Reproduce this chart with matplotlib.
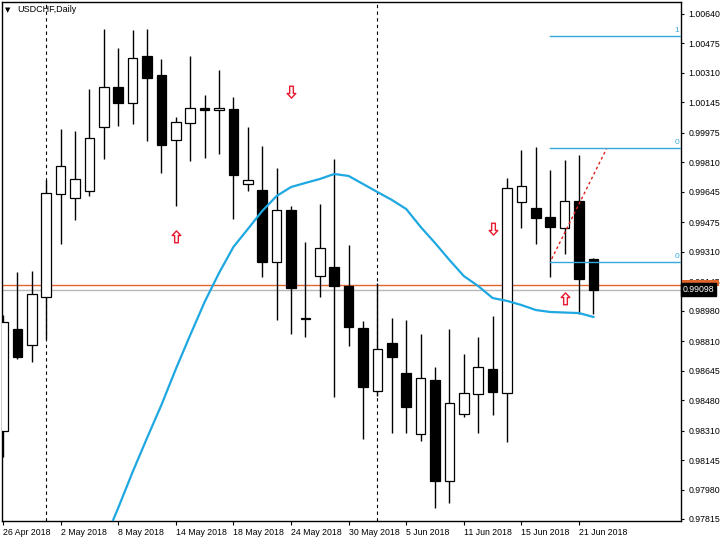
import matplotlib
matplotlib.use("Agg")
import matplotlib.pyplot as plt
import matplotlib.transforms as mtransforms
from matplotlib.path import Path
from matplotlib.patches import Rectangle

# ---------------- data ----------------
dates = ["26 Apr", "27 Apr", "30 Apr", "1 May", "2 May", "3 May", "4 May", "7 May",
         "8 May", "9 May", "10 May", "11 May", "14 May", "15 May", "16 May", "17 May",
         "18 May", "21 May", "22 May", "23 May", "24 May", "25 May", "28 May", "29 May",
         "30 May", "31 May", "1 Jun", "4 Jun", "5 Jun", "6 Jun", "7 Jun", "8 Jun",
         "11 Jun", "12 Jun", "13 Jun", "14 Jun", "15 Jun", "18 Jun", "19 Jun", "20 Jun",
         "21 Jun", "22 Jun"]
opens = [0.98307, 0.98878, 0.98788, 0.99057, 0.99633, 0.99611, 0.99650, 1.00008,
         1.00232, 1.00142, 1.00405, 1.00299, 0.99935, 1.00030, 1.00114, 1.00103,
         1.00109, 0.99689, 0.99655, 0.99253, 0.99544, 0.98934, 0.99174, 0.99225,
         0.99118, 0.98884, 0.98531, 0.98800, 0.98632, 0.98291, 0.98593, 0.98028,
         0.98402, 0.98514, 0.98654, 0.98520, 0.99588, 0.99555, 0.99504, 0.99443,
         0.99594, 0.99270]
highs = [0.98956, 0.99197, 0.99202, 0.99711, 0.99997, 0.99986, 1.00220, 1.00556,
         1.00450, 1.00551, 1.00556, 1.00388, 1.00064, 1.00405, 1.00187, 1.00327,
         1.00176, 1.00008, 0.99902, 0.99779, 0.99566, 0.99365, 0.99577, 0.99829,
         0.99348, 0.98923, 0.99135, 0.98939, 0.98928, 0.98850, 0.98665, 0.98878,
         0.98738, 0.98833, 0.98951, 0.99723, 0.99879, 0.99896, 0.99767, 0.99823,
         0.99851, 0.99275]
lows = [0.98162, 0.98710, 0.98693, 0.98822, 0.99353, 0.99488, 0.99622, 0.99829,
        1.00014, 1.00025, 0.99930, 0.99751, 0.99566, 0.99818, 0.99834, 0.99857,
        0.99493, 0.99650, 0.99169, 0.98928, 0.98850, 0.98833, 0.99057, 0.98498,
        0.98783, 0.98263, 0.98503, 0.98296, 0.98296, 0.98251, 0.97877, 0.97905,
        0.98386, 0.98296, 0.98397, 0.98246, 0.99443, 0.99353, 0.99169, 0.99297,
        0.98962, 0.98962]
closes = [0.98917, 0.98721, 0.99074, 0.99639, 0.99790, 0.99717, 0.99946, 1.00232,
          1.00142, 1.00394, 1.00282, 0.99907, 1.00036, 1.00114, 1.00103, 1.00114,
          0.99739, 0.99711, 0.99253, 0.99544, 0.99107, 0.98936, 0.99331, 0.99118,
          0.98889, 0.98553, 0.98766, 0.98721, 0.98442, 0.98604, 0.98028, 0.98464,
          0.98520, 0.98665, 0.98526, 0.99667, 0.99678, 0.99499, 0.99449, 0.99594,
          0.99158, 0.99098]

ma_start = 7
ma_values = [0.97686, 0.97877, 0.98078, 0.98268, 0.98453, 0.98654, 0.98844, 0.99029,
             0.99191, 0.99337, 0.99437, 0.99538, 0.99622, 0.99672, 0.99695, 0.99717,
             0.99745, 0.99734, 0.99689, 0.99644, 0.99600, 0.99549, 0.99449, 0.99359,
             0.99264, 0.99174, 0.99118, 0.99051, 0.99035, 0.99012, 0.98984, 0.98973,
             0.98970, 0.98967, 0.98945]

separator_idx = [3, 26]
xtick_idx = [0, 4, 8, 12, 16, 20, 24, 28, 32, 36, 40]
xtick_labels = ["26 Apr 2018", "2 May 2018", "8 May 2018", "14 May 2018", "18 May 2018",
                "24 May 2018", "30 May 2018", "5 Jun 2018", "11 Jun 2018", "15 Jun 2018",
                "21 Jun 2018"]
ytick_vals = [1.00640, 1.00475, 1.00310, 1.00145, 0.99975, 0.99810, 0.99645, 0.99475,
              0.99310, 0.99145, 0.98980, 0.98810, 0.98645, 0.98480, 0.98310, 0.98145,
              0.97980, 0.97815]

fib_start = 38
fib_levels = [1.00517, 0.99890, 0.99253]
fib_labels = ["1", "0", "0"]
trend_x = [38.1, 41.9]
trend_y = [0.99270, 0.99885]

up_arrows_x = [12, 39]
up_arrows_y = [0.99393, 0.99046]
down_arrows_x = [20, 34]
down_arrows_y = [1.00209, 0.99443]

hline_orange = 0.99124
bid_price = 0.99098

# ---------------- figure ----------------
FONT = "Liberation Sans"
fig = plt.figure(figsize=(7.2, 5.4), dpi=100)
ax = fig.add_axes([2 / 720, 1 - 521 / 540, 679 / 720, 519 / 540])
ax.set_facecolor("white")

n = len(opens)
w = 0.66
for i in range(n):
    o, h, l, c = opens[i], highs[i], lows[i], closes[i]
    ax.plot([i, i], [l, h], color="black", lw=1.0, zorder=3, solid_capstyle="butt")
    lo, hi = min(o, c), max(o, c)
    bh = max(hi - lo, 0.00003)
    fc = "white" if c >= o else "black"
    ax.add_patch(Rectangle((i - w / 2, lo), w, bh, facecolor=fc, edgecolor="black",
                           lw=0.9, zorder=4))

for s in separator_idx:
    ax.axvline(s, color="black", lw=0.8, ls=(0, (3, 3)), zorder=2)

ma_x = list(range(ma_start, ma_start + len(ma_values)))
ax.plot(ma_x, ma_values, color="#1ea8e2", lw=1.6, zorder=5)

for lvl, lab in zip(fib_levels, fib_labels):
    ax.plot([fib_start, 48], [lvl, lvl], color="#35a8de", lw=1.0, zorder=5)
    ax.text(46.95, lvl + 0.00010, lab, color="#35a8de", fontsize=6, ha="right",
            va="bottom", family=FONT, zorder=6)
ax.plot(trend_x, trend_y, color="#e02020", lw=1.0, ls=(0, (2, 2)), zorder=6)

ax.axhline(hline_orange, color="#e0652d", lw=1.0, zorder=2)
ax.axhline(bid_price, color="#b8b8b8", lw=1.0, zorder=2)

up_path = Path([(0, 1), (0.65, 0.3), (0.28, 0.3), (0.28, -0.8), (-0.28, -0.8),
                (-0.28, 0.3), (-0.65, 0.3), (0, 1)],
               [Path.MOVETO] + [Path.LINETO] * 6 + [Path.CLOSEPOLY])
down_path = Path([(x, -y) for x, y in up_path.vertices], up_path.codes)
ax.plot(up_arrows_x, up_arrows_y, ls="none", marker=up_path, markersize=9.5,
        markerfacecolor="white", markeredgecolor="#e8182e", markeredgewidth=1.0, zorder=7)
ax.plot(down_arrows_x, down_arrows_y, ls="none", marker=down_path, markersize=9.5,
        markerfacecolor="white", markeredgecolor="#e8182e", markeredgewidth=1.0, zorder=7)

ax.set_xlim(-0.07, 47.08)
ax.set_ylim(0.978038, 1.007071)

for sp in ax.spines.values():
    sp.set_color("black")
    sp.set_linewidth(1.0)

ax.yaxis.tick_right()
ax.set_yticks(ytick_vals)
ax.set_yticklabels([f"{v:.5f}" for v in ytick_vals], fontsize=6.3, family=FONT)
ax.tick_params(axis="y", direction="out", length=2.5, width=0.8, pad=3, colors="black")

ax.set_xticks(xtick_idx)
ax.set_xticklabels(xtick_labels, fontsize=6.3, family=FONT)
for lab in ax.get_xticklabels():
    lab.set_ha("left")
ax.tick_params(axis="x", direction="out", length=3, width=0.8, pad=2, colors="black")

trans = mtransforms.blended_transform_factory(ax.transAxes, ax.transData)
# orange price tag of the horizontal line (drawn as a plain band, mostly hidden)
ax.add_patch(Rectangle((1.0015, hline_orange - 0.00004), 0.0545, 0.00034,
                       transform=trans, facecolor="#e0652d", edgecolor="none",
                       clip_on=False, zorder=10))
ax.text(1.003, bid_price, f"{bid_price:.5f}", transform=trans, fontsize=6.3, family=FONT,
        color="white", va="center", ha="left", zorder=11, clip_on=False,
        bbox=dict(boxstyle="square,pad=0.2", fc="black", ec="black"))

fig.text(5 / 720, 1 - 10 / 540, "\u25bc", fontsize=5, family="DejaVu Sans",
         va="center", ha="left", color="black")
fig.text(17 / 720, 1 - 10 / 540, "USDCHF,Daily", fontsize=6.5, family=FONT,
         va="center", ha="left", color="black")

fig.savefig("out.png", dpi=100, facecolor="white")
